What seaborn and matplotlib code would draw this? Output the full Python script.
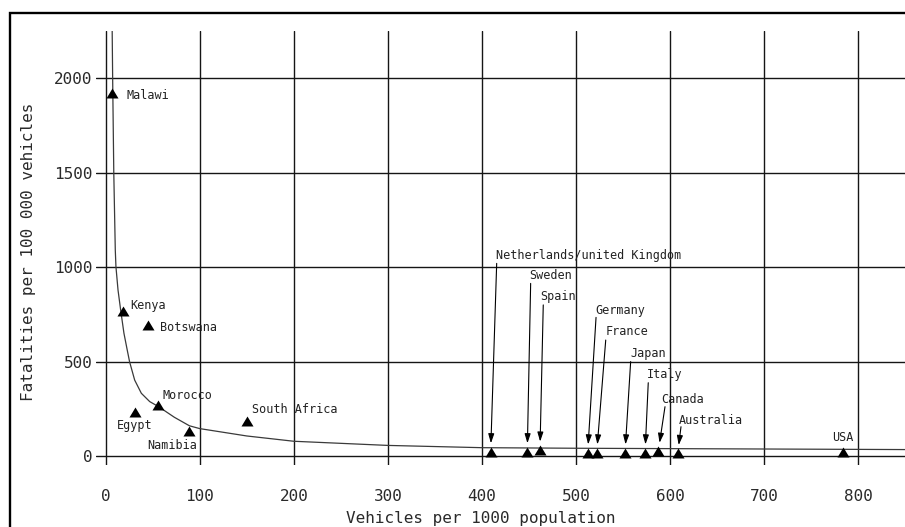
import matplotlib
matplotlib.use("Agg")
import matplotlib.pyplot as plt
import matplotlib.patches as mpatches
import pandas as pd
import seaborn as sns

# Countries: vehicle ownership vs road fatality rate
countries = ["Malawi", "Kenya", "Botswana", "Egypt", "Morocco", "Namibia",
             "South Africa", "Netherlands/united Kingdom", "Sweden", "Spain",
             "Germany", "France", "Japan", "Italy", "Canada", "Australia", "USA"]
vehicles = [7.2, 18.4, 44.6, 31.3, 55.9, 88.9, 150.5, 409.2, 448.1, 461.6,
            512.3, 521.9, 552.0, 573.3, 587.4, 608.0, 784.0]
fatalities = [1920, 769, 694, 233, 270, 132, 187, 23, 23, 32,
              17, 17, 17, 17, 26, 14, 23]

# Trend curve
curve_x = [6.9, 7.4, 8.6, 10.2, 10.9, 13.1, 15.9, 19.4, 22.9, 25.4, 30.8, 37.9,
           46.8, 56.0, 73.0, 89.0, 100, 150, 200, 300, 400, 500, 600, 700, 800, 850]
curve_y = [2250, 2000, 1500, 1091, 1002, 879, 773, 650, 561, 499, 402, 332,
           288, 262, 205, 160, 145, 106, 78, 56, 44, 41, 39, 37, 35, 34]

x_ticks = [0, 100, 200, 300, 400, 500, 600, 700, 800]
y_ticks = [0, 500, 1000, 1500, 2000]

# label placement (left edge, vertical centre)
label_pos = {
    "Malawi": (21.6, 1908),
    "Kenya": (25.8, 796),
    "Botswana": (57.7, 681),
    "Egypt": (11.7, 164),
    "Morocco": (60.2, 323),
    "Namibia": (44.6, 55),
    "South Africa": (156, 244),
    "Netherlands/united Kingdom": (414.5, 1064),
    "Sweden": (450, 955),
    "Spain": (462.4, 844),
    "Germany": (520, 773),
    "France": (531.5, 658),
    "Japan": (557.3, 544),
    "Italy": (575.4, 434),
    "Canada": (590.2, 300),
    "Australia": (609.4, 187),
    "USA": (771.7, 99),
}
# where the leader arrows start (just under the label)
arrow_start = {
    "Netherlands/united Kingdom": (415.6, 1020),
    "Sweden": (451.7, 914),
    "Spain": (465.1, 800),
    "Germany": (521.2, 734),
    "France": (531.5, 614),
    "Japan": (558.0, 500),
    "Italy": (576.7, 388),
    "Canada": (594.5, 261),
    "Australia": (611.5, 155),
}

df = pd.DataFrame({"country": countries, "vehicles": vehicles, "fatalities": fatalities})

sns.set_theme(style="white")
plt.rcParams["font.family"] = ["DejaVu Sans Mono", "DejaVu Sans"]

W, H = 905, 527
fig = plt.figure(figsize=(W / 100, H / 100), dpi=100)
ax = fig.add_axes([96 / W, 62 / H, 1 - 96 / W, (465 - 31.5) / H])

sns.lineplot(x=curve_x, y=curve_y, sort=False, estimator=None, color="#3a3a3a",
             linewidth=0.9, ax=ax, zorder=2)

tri = [(-1, -0.83), (1, -0.83), (0, 0.83)]
sns.scatterplot(data=df, x="vehicles", y="fatalities", marker=tri, s=75,
                color="black", linewidth=0, ax=ax, zorder=4)

for name, px, py in zip(countries, vehicles, fatalities):
    tx, ty = label_pos[name]
    ax.text(tx, ty, name, ha="left", va="center", fontsize=8.5, color="#222222")
    if name in arrow_start:
        ax.annotate("", xy=(px, py), xytext=arrow_start[name],
                    arrowprops=dict(arrowstyle="-|>,head_length=0.7,head_width=0.22",
                                    color="black", lw=0.8, shrinkA=0, shrinkB=6,
                                    mutation_scale=8))

ax.set_xlim(-10.3, 849.6)
ax.set_ylim(-47.7, 2248)
ax.set_xticks(x_ticks)
ax.set_yticks(y_ticks)
ax.grid(True, color="#151515", linewidth=1.0)
ax.set_axisbelow(True)
for s in ax.spines.values():
    s.set_visible(False)
ax.tick_params(axis="both", length=0, labelsize=11.5, labelcolor="#2a2a2a")
ax.tick_params(axis="x", pad=17)
ax.tick_params(axis="y", pad=2.5)

ax.set_xlabel("Vehicles per 1000 population", fontsize=11.5, color="#2a2a2a", va="center")
ax.xaxis.set_label_coords((481 - 96) / (W - 96), (H - 518 - 62) / (465 - 31.5))
ax.set_ylabel("Fatalities per 100 000 vehicles", fontsize=11.5, color="#2a2a2a",
              va="center", ha="center")
ax.yaxis.set_label_coords((29 - 96) / (W - 96), 0.491)

# outer frame, cut off at the right and bottom edges of the image
fig.add_artist(mpatches.Rectangle((9.8 / W, -0.5), 2, 1 - 12.8 / H + 0.5,
                                  transform=fig.transFigure, fill=False,
                                  edgecolor="black", linewidth=1.7, clip_on=False))

fig.savefig("out.png", dpi=100)
